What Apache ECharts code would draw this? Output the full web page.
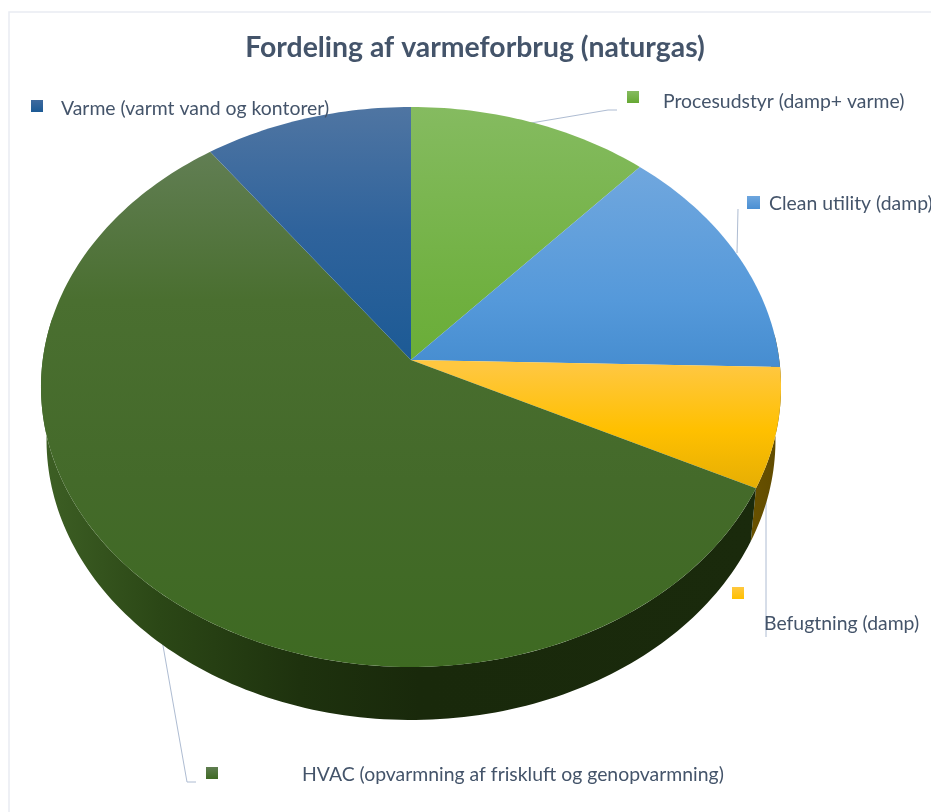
<!DOCTYPE html>
<html>
<head>
<meta charset="utf-8">
<style>html,body{margin:0;padding:0;background:#fff}#chart{width:931px;height:812px;overflow:hidden}</style>
<script src="https://cdn.jsdelivr.net/npm/echarts@6/dist/echarts.min.js"></script>
</head>
<body>
<div id="chart"></div>
<script>
// Slices, clockwise from twelve o'clock (share of natural gas heat use, %)
const categories = [
  'Procesudstyr (damp+ varme)',
  'Clean utility (damp)',
  'Befugtning (damp)',
  'HVAC (opvarmning af friskluft og genopvarmning)',
  'Varme (varmt vand og kontorer)'
];
const values = [11.6, 13.8, 6.9, 57.7, 10];

// Top-face gradient stops per slice: [screen y, colour]
const faceStops = [
  [[107, '#85bb60'], [300, '#6fb03f'], [360, '#6aad38']],
  [[167, '#70a7de'], [300, '#5599da'], [367, '#468dd0']],
  [[367, '#ffc73f'], [430, '#ffc000'], [488, '#e6ae04']],
  [[153, '#617e53'], [300, '#4a6f30'], [480, '#446a2a'], [667, '#3e6a22']],
  [[107, '#4f75a2'], [230, '#2f639c'], [360, '#1c5a95']]
];
const wallStops = [
  [[700, '#6f5700'], [790, '#5a4500']],
  [[700, '#6f5700'], [790, '#5a4500']],
  [[700, '#7a6000'], [790, '#5c4700']],
  [[45, '#3d5f24'], [160, '#2b4716'], [300, '#1e320e'], [420, '#19290b'], [760, '#1a2a0c']],
  [[0, '#1a2a0c'], [1, '#1a2a0c']]
];
const keyColors = [
  ['#86bb60', '#66a833'], ['#6ea6de', '#4a8fd3'], ['#ffc83f', '#ffc000'],
  ['#5f7d50', '#3f6a24'], ['#3f6a9e', '#1c5a95']
];

// Perspective disc: apex, half-axes and foreshortening of the pie top
const apex = { x: 411, y: 360 };
const axisX = 368.3, axisY = 277.4, tilt = 0.0964;
// Rim of the lower disc relative to the upper one
const depth = 53, rimScale = 0.985;

const textColor = '#44546a';
const leaderColor = '#aebcd2';
const font = 'Lato, "Open Sans", sans-serif';

// Legend placement for each slice: key box, text anchor, leader polyline
const keyBoxes = [[627, 91, 12, 12], [747, 196, 13, 13], [732, 587, 12, 12], [206, 767, 12, 12], [31, 100, 12, 12]];
const textAnchors = [[663, 102], [769, 204], [764, 624], [302, 775], [61, 109]];
const leaders = [
  [[531, 123], [608, 110], [617, 110]],
  [[737, 253], [738, 209]],
  [[766, 484], [766, 637]],
  [[162, 640], [187, 782], [196, 782]],
  []
];

const total = values.reduce((a, b) => a + b, 0);
const starts = [];
values.reduce((acc, v, i) => { starts[i] = acc; return acc + v; }, 0);

function topPoint(theta) {
  const u = Math.sin(theta), v = Math.cos(theta), w = 1 + tilt * v;
  return [apex.x + axisX * u / w, apex.y - axisY * v / w];
}
function rimPoint(theta) {
  const p = topPoint(theta);
  return [apex.x + (p[0] - apex.x) * rimScale, p[1] + depth];
}
function arc(fn, a0, a1) {
  const n = Math.max(2, Math.ceil(Math.abs(a1 - a0) / 0.02));
  const pts = [];
  for (let i = 0; i <= n; i++) pts.push(fn(a0 + (a1 - a0) * i / n));
  return pts;
}
function sliceAngles(i) {
  return [starts[i] / total * 2 * Math.PI, (starts[i] + values[i]) / total * 2 * Math.PI];
}
function gradient(stops, horizontal) {
  const lo = stops[0][0], hi = stops[stops.length - 1][0];
  const cs = stops.map(s => ({ offset: (s[0] - lo) / (hi - lo), color: s[1] }));
  return horizontal
    ? new echarts.graphic.LinearGradient(lo, 0, hi, 0, cs, true)
    : new echarts.graphic.LinearGradient(0, lo, 0, hi, cs, true);
}

function renderWall(params, api) {
  const i = api.value(0);
  const [a0, a1] = sliceAngles(i);
  // Only the part of the rim facing the viewer is visible; the top face hides the rest
  const from = Math.max(a0, Math.PI * 0.47), to = Math.min(a1, Math.PI * 1.55);
  if (to <= from) return null;
  const pts = arc(topPoint, from, to).concat(arc(rimPoint, to, from));
  return { type: 'polygon', shape: { points: pts }, style: { fill: gradient(wallStops[i], true) }, silent: true };
}
function renderFace(params, api) {
  const i = api.value(0);
  const [a0, a1] = sliceAngles(i);
  const pts = [[apex.x, apex.y]].concat(arc(topPoint, a0, a1));
  return { type: 'polygon', shape: { points: pts }, style: { fill: gradient(faceStops[i], false) }, silent: true };
}

const graphics = [{
  type: 'rect', z: 0, silent: true,
  shape: { x: 9, y: 12, width: 1000, height: 1000 },
  style: { fill: '#fff', stroke: '#e9ecf2', lineWidth: 1.5 }
}];
categories.forEach((name, i) => {
  if (leaders[i].length) graphics.push({
    type: 'polyline', z: 1, silent: true,
    shape: { points: leaders[i] },
    style: { fill: null, stroke: leaderColor, lineWidth: 1 }
  });
  const k = keyBoxes[i];
  graphics.push({
    type: 'rect', z: 20, silent: true,
    shape: { x: k[0], y: k[1], width: k[2], height: k[3] },
    style: { fill: new echarts.graphic.LinearGradient(0, 0, 0, 1, [
      { offset: 0, color: keyColors[i][0] }, { offset: 1, color: keyColors[i][1] }
    ]) }
  });
  graphics.push({
    type: 'text', z: 20, silent: true,
    x: textAnchors[i][0], y: textAnchors[i][1],
    style: { text: name, fill: textColor, font: '19.4px ' + font, textAlign: 'left', textVerticalAlign: 'middle' }
  });
});

const chart = echarts.init(document.getElementById('chart'), null, { renderer: 'canvas' });
chart.setOption({
  animation: false,
  title: {
    text: 'Fordeling af varmeforbrug (naturgas)',
    left: 470, top: 29, textAlign: 'center',
    textStyle: { color: textColor, fontFamily: font, fontWeight: 'bold', fontSize: 28.4 }
  },
  graphic: graphics,
  series: [
    { type: 'custom', coordinateSystem: 'none', z: 5, clip: false, renderItem: renderWall, data: values.map((v, i) => [i, v]) },
    { type: 'custom', coordinateSystem: 'none', z: 6, clip: false, renderItem: renderFace, data: values.map((v, i) => [i, v]) }
  ]
});
</script>
</body>
</html>
